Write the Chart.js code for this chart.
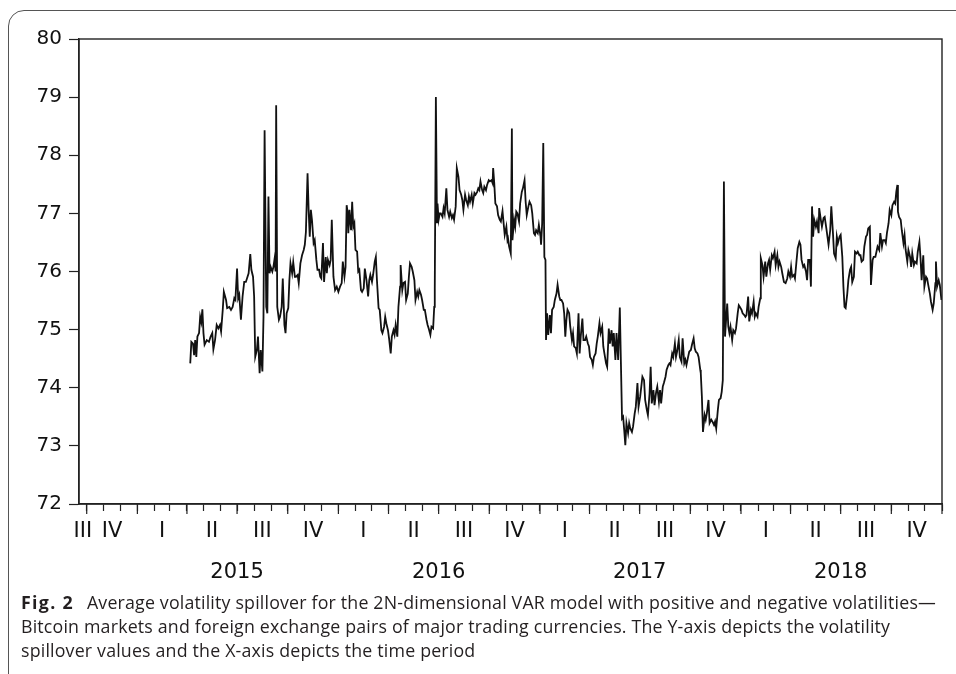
<!DOCTYPE html>
<html>
<head>
<meta charset="utf-8">
<script src="https://cdn.jsdelivr.net/npm/chart.js@4.4.1/dist/chart.umd.min.js"></script>
<style>
    html, body { margin: 0; padding: 0; background: #fff; overflow: hidden; }
    body { width: 956px; height: 674px; position: relative; }
    #frame {
        position: absolute; left: 8px; top: 10px; width: 1000px; height: 720px;
        border: 1.4px solid #555; border-radius: 16px; box-sizing: border-box;
    }
    #chart { position: absolute; left: 0; top: 0; }
    .caption {
        position: absolute; left: 21px; top: 590px;
        font-family: 'Open Sans', 'Noto Sans', sans-serif; font-size: 17.8px; line-height: 24px;
        letter-spacing: 0.18px; color: #231f20; white-space: nowrap;
    }
    .caption b { letter-spacing: 1.3px; margin-right: 13px; }
</style>
</head>
<body>
<div id="frame"></div>
<canvas id="chart" width="956" height="595"></canvas>
<div class="caption"><b>Fig. 2</b>Average volatility spillover for the 2N-dimensional VAR model with positive and negative volatilities—<br>Bitcoin markets and foreign exchange pairs of major trading currencies. The Y-axis depicts the volatility<br>spillover values and the X-axis depicts the time period</div>
<script>
// x values: days counted from 1 Jan 2015
const days = [
    96, 98, 101, 103, 105, 107, 109, 112, 114, 116,
    118, 120, 122, 126, 130, 133, 136, 138, 141, 144,
    147, 150, 152, 155, 157, 161, 163, 167, 170, 173,
    176, 178, 181, 183, 185, 188, 191, 194, 197, 200,
    202, 205, 207, 210, 212, 214, 217, 219, 222, 224,
    227, 229, 231, 234, 236, 238, 240, 242, 245, 247,
    249, 251, 252, 254, 257, 259, 262, 264, 267, 269,
    271, 274, 276, 278, 281, 283, 286, 288, 291, 293,
    296, 299, 302, 304, 306, 309, 311, 313, 315, 317,
    320, 322, 325, 327, 330, 332, 334, 337, 339, 342,
    344, 346, 349, 351, 353, 356, 359, 362, 365, 368,
    371, 373, 376, 378, 380, 382, 383, 385, 388, 390,
    392, 394, 396, 399, 401, 403, 406, 408, 411, 413,
    416, 419, 421, 423, 426, 428, 431, 433, 435, 438,
    440, 443, 445, 448, 450, 452, 455, 457, 460, 462,
    465, 467, 469, 472, 474, 477, 478, 481, 483, 486,
    488, 491, 493, 495, 498, 500, 503, 505, 508, 510,
    512, 515, 517, 520, 522, 525, 527, 529, 532, 534,
    537, 539, 540, 542, 544, 545, 547, 549, 551, 554,
    556, 558, 561, 563, 566, 568, 571, 573, 575, 578,
    580, 583, 585, 588, 590, 592, 595, 597, 600, 602,
    604, 607, 609, 612, 614, 617, 619, 621, 623, 626,
    628, 630, 633, 635, 638, 640, 643, 645, 646, 648,
    650, 653, 655, 658, 660, 663, 665, 667, 670, 672,
    673, 675, 678, 680, 681, 684, 686, 688, 690, 693,
    695, 698, 700, 703, 705, 707, 710, 712, 715, 717,
    720, 722, 724, 727, 729, 732, 733, 735, 737, 739,
    741, 742, 744, 746, 749, 751, 753, 756, 758, 761,
    763, 766, 768, 770, 773, 775, 777, 779, 781, 784,
    786, 789, 791, 793, 796, 798, 801, 803, 805, 808,
    810, 813, 815, 818, 820, 822, 825, 827, 829, 832,
    834, 836, 839, 841, 844, 846, 848, 851, 853, 856,
    858, 861, 863, 865, 868, 870, 873, 876, 878, 880,
    882, 884, 886, 888, 891, 893, 895, 898, 900, 903,
    905, 908, 910, 913, 915, 917, 920, 922, 925, 927,
    930, 932, 934, 937, 939, 942, 944, 947, 949, 951,
    954, 956, 959, 961, 964, 966, 968, 971, 973, 976,
    978, 980, 983, 985, 988, 990, 993, 995, 997, 1000,
    1002, 1005, 1007, 1010, 1012, 1014, 1017, 1019, 1022, 1023,
    1025, 1027, 1030, 1032, 1034, 1037, 1039, 1042, 1044, 1047,
    1049, 1051, 1054, 1056, 1059, 1061, 1063, 1065, 1067, 1069,
    1071, 1073, 1075, 1077, 1080, 1082, 1085, 1087, 1090, 1092,
    1094, 1097, 1099, 1102, 1104, 1106, 1109, 1111, 1114, 1116,
    1119, 1121, 1123, 1126, 1128, 1131, 1132, 1135, 1137, 1140,
    1142, 1145, 1147, 1149, 1152, 1154, 1157, 1159, 1162, 1164,
    1166, 1169, 1171, 1174, 1177, 1180, 1182, 1185, 1187, 1189,
    1192, 1194, 1197, 1199, 1202, 1204, 1206, 1209, 1211, 1214,
    1216, 1218, 1221, 1223, 1225, 1227, 1229, 1232, 1234, 1237,
    1238, 1241, 1243, 1246, 1248, 1251, 1253, 1255, 1258, 1260,
    1263, 1265, 1268, 1270, 1272, 1275, 1277, 1280, 1282, 1284,
    1286, 1289, 1291, 1294, 1296, 1298, 1301, 1303, 1306, 1308,
    1311, 1313, 1315, 1318, 1320, 1323, 1325, 1327, 1330, 1332,
    1335, 1337, 1340, 1342, 1344, 1347, 1349, 1352, 1354, 1357,
    1359, 1361, 1364, 1366, 1369, 1371, 1374, 1376, 1378, 1380,
    1381, 1383, 1386, 1388, 1391, 1393, 1395, 1398, 1400, 1403,
    1405, 1407, 1410, 1412, 1415, 1417, 1420, 1422, 1424, 1427,
    1429, 1432, 1434, 1436, 1439, 1441, 1444, 1446, 1449, 1450,
    1452, 1455, 1457, 1460
]

const spillover = [
    74.42, 74.79, 74.76, 74.56, 74.82, 74.53, 74.88, 74.94, 75.22, 75.13,
    75.35, 74.94, 74.74, 74.82, 74.79, 74.88, 74.94, 74.66, 74.82, 75.08,
    75.02, 75.08, 74.97, 75.34, 75.65, 75.51, 75.37, 75.39, 75.34, 75.39,
    75.54, 75.51, 76.05, 75.54, 75.60, 75.17, 75.57, 75.82, 75.82, 75.91,
    75.97, 76.30, 76.03, 75.91, 75.57, 74.53, 74.65, 74.88, 74.25, 74.65,
    74.28, 75.22, 78.43, 75.39, 75.28, 77.29, 75.97, 76.08, 76.00, 76.08,
    76.21, 76.00, 78.86, 75.39, 75.17, 75.22, 75.39, 75.88, 75.08, 74.94,
    75.28, 75.37, 75.85, 76.14, 75.97, 76.16, 75.91, 75.91, 75.94, 75.80,
    76.14, 76.28, 76.37, 76.46, 76.68, 77.69, 77.05, 76.60, 77.06, 76.89,
    76.49, 76.54, 76.20, 76.03, 76.03, 75.91, 75.88, 76.49, 75.82, 76.25,
    75.97, 76.20, 76.11, 76.20, 76.89, 75.91, 75.68, 75.74, 75.65, 75.74,
    75.80, 76.17, 75.91, 76.08, 77.14, 77.00, 76.66, 77.06, 76.71, 77.20,
    76.77, 76.83, 76.37, 76.34, 76.00, 76.03, 75.68, 75.65, 75.71, 76.05,
    75.85, 75.57, 75.85, 75.94, 75.82, 75.94, 76.17, 76.25, 75.85, 75.37,
    75.34, 74.99, 74.94, 75.05, 75.22, 75.11, 74.99, 74.85, 74.59, 74.88,
    74.99, 74.91, 75.08, 74.88, 75.39, 75.74, 76.11, 75.68, 75.80, 75.82,
    75.51, 75.62, 75.91, 76.14, 76.08, 76.00, 75.85, 75.51, 75.65, 75.57,
    75.68, 75.60, 75.51, 75.34, 75.34, 75.17, 75.08, 75.02, 74.91, 75.05,
    75.02, 75.39, 75.70, 79.00, 76.83, 77.17, 76.89, 77.00, 77.00, 76.94,
    77.09, 77.00, 77.43, 77.06, 76.94, 77.03, 76.92, 76.97, 76.89, 77.12,
    77.78, 77.63, 77.40, 77.32, 77.23, 77.06, 77.32, 77.23, 77.14, 77.29,
    77.20, 77.32, 77.17, 77.35, 77.32, 77.37, 77.43, 77.40, 77.55, 77.40,
    77.35, 77.46, 77.40, 77.49, 77.57, 77.55, 77.57, 77.52, 77.78, 77.52,
    77.17, 77.12, 76.97, 76.89, 76.86, 77.04, 76.83, 76.63, 76.77, 76.54,
    76.57, 76.43, 76.31, 78.46, 76.54, 76.89, 76.77, 77.03, 77.00, 76.86,
    77.17, 77.37, 77.43, 77.57, 77.20, 76.97, 77.12, 77.20, 77.14, 77.00,
    76.66, 76.63, 76.71, 76.66, 76.80, 76.60, 76.46, 76.83, 78.21, 76.25,
    76.20, 74.82, 75.28, 74.91, 75.25, 74.94, 75.34, 75.39, 75.51, 75.62,
    75.77, 75.57, 75.51, 75.51, 75.45, 75.28, 74.88, 75.17, 75.34, 75.28,
    75.05, 74.82, 74.94, 74.71, 74.68, 74.59, 75.28, 74.59, 74.88, 75.19,
    74.82, 74.82, 74.88, 74.76, 74.71, 74.53, 74.48, 74.39, 74.53, 74.59,
    74.76, 74.88, 75.11, 74.94, 75.05, 74.71, 74.59, 74.42, 74.36, 75.02,
    74.76, 74.99, 74.71, 74.94, 74.48, 74.94, 74.48, 75.38, 74.42, 73.47,
    73.50, 73.27, 73.01, 73.39, 73.22, 73.39, 73.30, 73.24, 73.33, 73.56,
    73.67, 74.08, 73.67, 73.85, 74.02, 74.19, 74.13, 73.79, 73.62, 73.53,
    73.90, 74.36, 73.73, 73.96, 73.70, 73.93, 74.02, 73.76, 73.96, 73.73,
    74.02, 74.08, 74.19, 74.31, 74.39, 74.42, 74.39, 74.59, 74.53, 74.76,
    74.53, 74.62, 74.82, 74.53, 74.45, 74.85, 74.42, 74.48, 74.39, 74.53,
    74.62, 74.65, 74.74, 74.85, 74.68, 74.62, 74.59, 74.53, 74.31, 74.25,
    73.85, 73.24, 73.53, 73.45, 73.56, 73.79, 73.39, 73.45, 73.42, 73.36,
    73.42, 73.30, 73.62, 73.79, 73.82, 73.93, 74.13, 77.55, 74.88, 75.17,
    75.45, 75.05, 74.94, 75.05, 74.82, 74.99, 74.94, 75.02, 75.28, 75.42,
    75.39, 75.34, 75.28, 75.25, 75.22, 75.25, 75.57, 75.14, 75.34, 75.28,
    75.48, 75.22, 75.28, 75.22, 75.39, 75.54, 76.23, 76.11, 75.91, 76.17,
    75.91, 76.14, 76.20, 76.03, 76.28, 76.23, 76.34, 76.11, 76.28, 76.08,
    76.17, 76.08, 75.97, 75.82, 75.80, 75.88, 76.00, 75.91, 76.08, 75.91,
    75.94, 75.88, 76.20, 76.40, 76.51, 76.46, 76.20, 76.08, 76.11, 76.00,
    75.85, 76.20, 76.20, 75.74, 77.12, 76.60, 76.89, 76.77, 76.86, 76.66,
    77.09, 76.89, 76.77, 76.92, 76.94, 76.74, 76.60, 76.46, 76.71, 77.12,
    76.66, 76.31, 76.23, 76.60, 76.49, 76.60, 76.63, 76.25, 75.74, 75.39,
    75.37, 75.62, 75.85, 76.03, 76.08, 75.82, 75.91, 76.34, 76.31, 76.34,
    76.28, 76.28, 76.17, 76.20, 76.43, 76.60, 76.63, 76.74, 76.77, 75.77,
    76.20, 76.25, 76.25, 76.34, 76.43, 76.37, 76.66, 76.43, 76.54, 76.54,
    76.49, 76.66, 76.83, 77.06, 76.97, 77.14, 77.20, 77.17, 77.37, 77.49,
    77.03, 76.94, 76.89, 76.71, 76.49, 76.63, 76.37, 76.17, 76.37, 76.25,
    76.08, 76.31, 76.11, 76.17, 76.14, 76.34, 76.51, 76.23, 75.85, 76.28,
    75.74, 75.91, 75.88, 75.77, 75.62, 75.48, 75.34, 75.45, 75.80, 76.17,
    75.74, 75.85, 75.77, 75.51
]

const yTicks = [72, 73, 74, 75, 76, 77, 78, 79, 80]
const quarterNames = ['I', 'II', 'III', 'IV']
const years = [2015, 2016, 2017, 2018]
const xMin = -106 // mid September 2014
const xMax = 1461 // 1 January 2019

function dayOf(year, month) {
    return Math.round((Date.UTC(year, month, 1) - Date.UTC(2015, 0, 1)) / 86400000)
}

// tick marks at every month, longer ones at quarters
const monthTicks = []
const quarterTicks = []
for (let y = 2014; y <= 2019; y++) {
    for (let m = 0; m < 12; m++) {
        const d = dayOf(y, m)
        if (d > xMin && d <= xMax) {
            monthTicks.push(d)
            if (m % 3 === 0) quarterTicks.push(d)
        }
    }
}

// quarter names sit in the middle of the (visible part of the) quarter,
// years sit two lines lower in the middle of the year
const tickLabels = new Map()
for (let y = 2014; y <= 2018; y++) {
    for (let q = 0; q < 4; q++) {
        const start = Math.max(dayOf(y, q * 3), xMin)
        const end = Math.min(dayOf(y, q * 3 + 3), xMax)
        if (end > start) tickLabels.set((start + end) / 2, quarterNames[q])
    }
}
for (const y of years) tickLabels.set(dayOf(y, 6), ['', '', String(y)])

const allTicks = [...new Set([...monthTicks, ...tickLabels.keys()])].sort((a, b) => a - b)

const boxPlugin = {
    id: 'box',
    afterDraw(chart) {
        const { ctx, chartArea: a } = chart
        const x = chart.scales.x
        ctx.save()
        ctx.strokeStyle = '#222'
        ctx.lineWidth = 1.4
        ctx.strokeRect(a.left, a.top, a.right - a.left, a.bottom - a.top)
        ctx.lineWidth = 1.2
        ctx.beginPath()
        for (const d of quarterTicks) {
            const px = x.getPixelForValue(d)
            ctx.moveTo(px, a.bottom)
            ctx.lineTo(px, a.bottom + 10)
        }
        ctx.stroke()
        ctx.restore()
    },
}

Chart.defaults.font.family = "'DejaVu Sans', 'Liberation Sans', sans-serif"
Chart.defaults.color = '#111'

new Chart('chart', {
    type: 'line',
    data: {
        datasets: [
            {
                data: days.map((d, i) => ({ x: d, y: spillover[i] })),
                borderColor: '#111',
                borderWidth: 1.8,
                pointRadius: 0,
                tension: 0,
            },
        ],
    },
    options: {
        responsive: false,
        animation: false,
        layout: {
            padding: { left: 0, right: 14, top: 39, bottom: 0 },
        },
        plugins: {
            legend: { display: false },
            tooltip: { enabled: false },
        },
        scales: {
            x: {
                type: 'linear',
                min: xMin,
                max: xMax,
                afterBuildTicks: (scale) => {
                    scale.ticks = allTicks.map((v) => ({ value: v }))
                },
                afterFit: (scale) => {
                    scale.height = 91
                },
                grid: {
                    drawOnChartArea: false,
                    tickLength: 7,
                    tickWidth: 1.2,
                    tickColor: (ctx) =>
                        ctx.tick && monthTicks.includes(ctx.tick.value) ? '#222' : 'rgba(0,0,0,0)',
                },
                border: { color: '#222', width: 1.4 },
                ticks: {
                    autoSkip: false,
                    maxRotation: 0,
                    minRotation: 0,
                    padding: 10,
                    font: { size: 21, lineHeight: 0.99 },
                    callback: (v) => tickLabels.get(v) ?? '',
                },
            },
            y: {
                min: 72,
                max: 80,
                afterBuildTicks: (scale) => {
                    scale.ticks = yTicks.map((v) => ({ value: v }))
                },
                afterFit: (scale) => {
                    scale.width = 79
                },
                grid: {
                    drawOnChartArea: false,
                    tickLength: 10,
                    tickWidth: 1.2,
                    tickColor: '#222',
                },
                border: { color: '#222', width: 1.4 },
                ticks: {
                    padding: 7,
                    font: { size: 20 },
                },
            },
        },
    },
    plugins: [boxPlugin],
})
</script>
</body>
</html>
